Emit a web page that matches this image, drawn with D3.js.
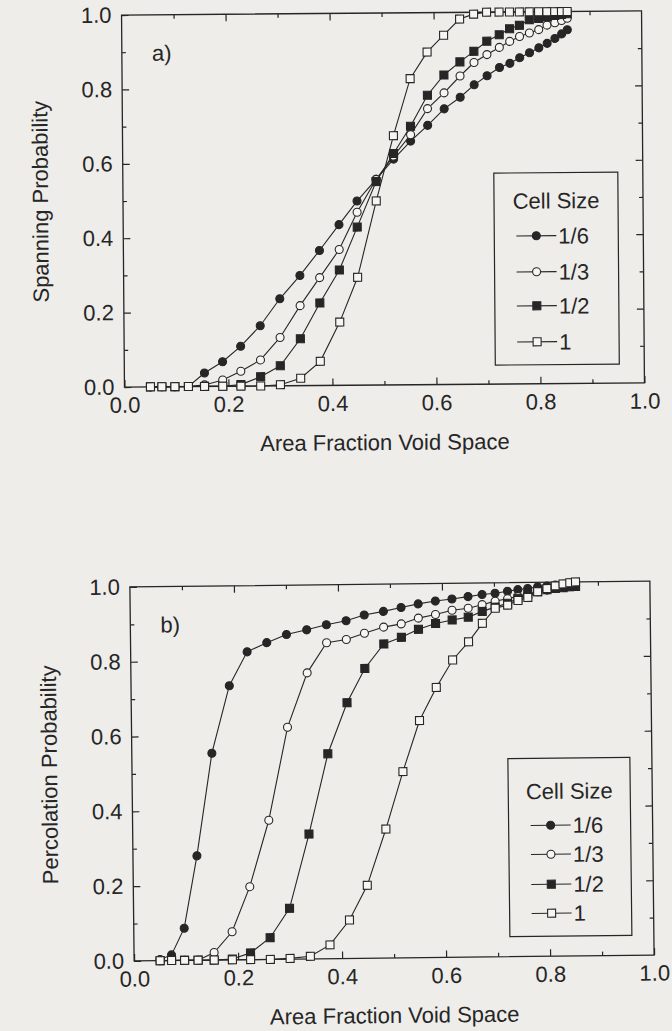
<!DOCTYPE html>
<html>
<head>
<meta charset="utf-8">
<script src="https://cdn.jsdelivr.net/npm/d3@7"></script>
<style>
body { margin: 0; background: #eeedea; }
svg { display: block; }
text { font-family: "Liberation Sans", Arial, Helvetica, sans-serif; fill: #262626; }
</style>
</head>
<body>
<svg id="fig" width="672" height="1031"></svg>
<script>
// shared x values (area fraction of void space)
var areaFraction = [0.050, 0.072, 0.097, 0.123, 0.154, 0.189, 0.224, 0.262, 0.300, 0.339,
    0.377, 0.415, 0.450, 0.487, 0.521, 0.554, 0.587, 0.619, 0.650, 0.677,
    0.702, 0.726, 0.746, 0.765, 0.784, 0.802, 0.818, 0.833, 0.846, 0.857];

var cellSizes = ["1/6", "1/3", "1/2", "1"];

// panel a) spanning probability
var spanSixth = [0, 0, 0, 0, 0.036, 0.066, 0.107, 0.162, 0.234, 0.296, 0.363, 0.432, 0.495, 0.553, 0.607,
    0.655, 0.697, 0.741, 0.772, 0.805, 0.829, 0.851, 0.862, 0.877, 0.890, 0.903, 0.915, 0.928, 0.940, 0.951];
var spanThird = [0, 0, 0, 0, 0.004, 0.017, 0.040, 0.070, 0.130, 0.215, 0.290, 0.365, 0.465, 0.553, 0.615,
    0.672, 0.742, 0.784, 0.829, 0.865, 0.886, 0.905, 0.921, 0.934, 0.943, 0.952, 0.964, 0.970, 0.976, 0.982];
var spanHalf = [0, 0, 0, 0, 0, 0, 0.004, 0.025, 0.054, 0.126, 0.222, 0.310, 0.425, 0.547, 0.622,
    0.695, 0.778, 0.832, 0.867, 0.895, 0.922, 0.939, 0.955, 0.964, 0.979, 0.982, 0.986, 0.990, 0.992, 0.994];
var spanOne = [0, 0, 0, 0, 0, 0, 0, 0, 0.003, 0.020, 0.065, 0.170, 0.290, 0.495, 0.670,
    0.823, 0.894, 0.939, 0.982, 0.995, 1, 1, 1, 1, 1, 1, 1, 1, 1, 1];

// panel b) percolation probability
var percSixth = [0.003, 0.015, 0.086, 0.279, 0.553, 0.733, 0.823, 0.847, 0.868, 0.880, 0.893, 0.903, 0.918, 0.927, 0.937,
    0.946, 0.953, 0.958, 0.964, 0.969, 0.972, 0.977, 0.981, 0.984, 0.988, 0.990, 0.992, 0.994, 0.995, 0.996];
var percThird = [0, 0, 0, 0, 0.020, 0.075, 0.195, 0.372, 0.620, 0.765, 0.845, 0.853, 0.869, 0.885, 0.893,
    0.908, 0.917, 0.928, 0.933, 0.942, 0.951, 0.957, 0.963, 0.969, 0.975, 0.979, 0.983, 0.986, 0.989, 0.991];
var percHalf = [0, 0, 0, 0, 0, 0.002, 0.018, 0.058, 0.136, 0.334, 0.548, 0.684, 0.775, 0.840, 0.857,
    0.878, 0.893, 0.902, 0.909, 0.924, 0.935, 0.945, 0.958, 0.968, 0.975, 0.980, 0.983, 0.985, 0.987, 0.988];
var percOne = [0, 0, 0, 0, 0, 0, 0, 0, 0.002, 0.007, 0.037, 0.103, 0.195, 0.345, 0.498,
    0.634, 0.722, 0.795, 0.843, 0.892, 0.932, 0.940, 0.952, 0.960, 0.975, 0.983, 0.990, 0.995, 0.998, 1];

var majorTicks = [0, 0.2, 0.4, 0.6, 0.8, 1.0];
var minorTicks = [0.1, 0.3, 0.5, 0.7, 0.9];

var ink = "#262626";
var paper = "#f6f5f2";
var markerTypes = ["dot", "circle", "square", "box"];

var svg = d3.select("#fig");

drawPanel({
    left: 123, right: 643, top: 13, bottom: 385, angle: -0.45,
    tag: "a)", yTitle: "Spanning Probability",
    series: [spanSixth, spanThird, spanHalf, spanOne],
    legend: { x: 371, y: 161, w: 124, h: 192, titleY: 189, rows: [224, 260, 294, 330] }
});

drawPanel({
    left: 132, right: 652, top: 584, bottom: 958, angle: -0.65,
    tag: "b)", yTitle: "Percolation Probability",
    series: [percSixth, percThird, percHalf, percOne],
    legend: { x: 376, y: 176, w: 122, h: 178, titleY: 209, rows: [243, 272, 302, 331] }
});

function drawMarker(g, type, cx, cy) {
    if (type === "dot" || type === "circle") {
        g.append("circle")
            .attr("cx", cx).attr("cy", cy).attr("r", 4)
            .attr("fill", type === "dot" ? ink : paper)
            .attr("stroke", ink).attr("stroke-width", 1.1);
    } else {
        g.append("rect")
            .attr("x", cx - 4).attr("y", cy - 4)
            .attr("width", 8).attr("height", 8)
            .attr("fill", type === "square" ? ink : paper)
            .attr("stroke", ink).attr("stroke-width", 1.1);
    }
}

function drawPanel(p) {
    var cx = (p.left + p.right) / 2, cy = (p.top + p.bottom) / 2;
    var g = svg.append("g").attr("transform", `rotate(${p.angle}, ${cx}, ${cy})`);

    var x = d3.scaleLinear().domain([0, 1]).range([p.left, p.right]);
    var y = d3.scaleLinear().domain([0, 1]).range([p.bottom, p.top]);
    var fmt = d3.format(".1f");

    // axes, ticks inward on all four sides
    var axes = g.append("g").attr("class", "axes");
    axes.append("g").attr("transform", `translate(0,${p.bottom})`)
        .call(d3.axisBottom(x).tickValues(majorTicks).tickFormat(fmt).tickSizeInner(-7).tickSizeOuter(0).tickPadding(10));
    axes.append("g").attr("transform", `translate(0,${p.bottom})`)
        .call(d3.axisBottom(x).tickValues(minorTicks).tickFormat("").tickSizeInner(-4).tickSizeOuter(0));
    axes.append("g").attr("transform", `translate(0,${p.top})`)
        .call(d3.axisTop(x).tickValues(majorTicks.slice(1, 5)).tickFormat("").tickSizeInner(-7).tickSizeOuter(0));
    axes.append("g").attr("transform", `translate(0,${p.top})`)
        .call(d3.axisTop(x).tickValues(minorTicks).tickFormat("").tickSizeInner(-4).tickSizeOuter(0));
    axes.append("g").attr("transform", `translate(${p.left},0)`)
        .call(d3.axisLeft(y).tickValues(majorTicks).tickFormat(fmt).tickSizeInner(-7).tickSizeOuter(0).tickPadding(10));
    axes.append("g").attr("transform", `translate(${p.left},0)`)
        .call(d3.axisLeft(y).tickValues(minorTicks).tickFormat("").tickSizeInner(-4).tickSizeOuter(0));
    axes.append("g").attr("transform", `translate(${p.right},0)`)
        .call(d3.axisRight(y).tickValues(majorTicks.slice(1, 5)).tickFormat("").tickSizeInner(-7).tickSizeOuter(0));
    axes.append("g").attr("transform", `translate(${p.right},0)`)
        .call(d3.axisRight(y).tickValues(minorTicks).tickFormat("").tickSizeInner(-4).tickSizeOuter(0));

    axes.selectAll(".domain").remove();
    axes.selectAll(".tick line").attr("stroke", ink).attr("stroke-width", 1.2);
    axes.selectAll(".tick text")
        .style("font-size", "22px")
        .style("font-family", '"Liberation Sans", Arial, sans-serif')
        .attr("fill", ink);

    // frame
    g.append("rect")
        .attr("x", p.left).attr("y", p.top)
        .attr("width", p.right - p.left).attr("height", p.bottom - p.top)
        .attr("fill", "none").attr("stroke", ink).attr("stroke-width", 1.3);

    // axis titles
    g.append("text")
        .attr("x", cx).attr("y", p.bottom + 65)
        .attr("text-anchor", "middle")
        .style("font-size", "22px")
        .text("Area Fraction Void Space");
    g.append("text")
        .attr("transform", `translate(${p.left - 75},${cy}) rotate(-90)`)
        .attr("text-anchor", "middle")
        .style("font-size", "22px")
        .text(p.yTitle);

    g.append("text")
        .attr("x", p.left + 30).attr("y", p.top + 46)
        .style("font-size", "22px")
        .text(p.tag);

    // series: line then markers, last series on top
    var line = d3.line()
        .x(d => x(d[0]))
        .y(d => y(d[1]));

    p.series.forEach(function(vals, i) {
        var pts = areaFraction.map((a, j) => [a, vals[j]]);
        var sg = g.append("g").attr("class", "series");
        sg.append("path")
            .datum(pts)
            .attr("d", line)
            .attr("fill", "none")
            .attr("stroke", ink)
            .attr("stroke-width", 1.1);
        pts.forEach(function(d) {
            drawMarker(sg, markerTypes[i], x(d[0]), y(d[1]));
        });
    });

    // legend
    var L = p.legend;
    var lg = g.append("g").attr("transform", `translate(${p.left + L.x},${p.top})`);
    lg.append("rect")
        .attr("x", 0).attr("y", L.y)
        .attr("width", L.w).attr("height", L.h)
        .attr("fill", "none").attr("stroke", ink).attr("stroke-width", 1.2);
    lg.append("text")
        .attr("x", L.w / 2).attr("y", L.titleY)
        .attr("dy", "0.35em")
        .attr("text-anchor", "middle")
        .style("font-size", "22px")
        .text("Cell Size");
    cellSizes.forEach(function(c, i) {
        var ry = L.rows[i];
        lg.append("line")
            .attr("x1", 22).attr("x2", 62)
            .attr("y1", ry).attr("y2", ry)
            .attr("stroke", ink).attr("stroke-width", 1.1);
        drawMarker(lg, markerTypes[i], 42, ry);
        lg.append("text")
            .attr("x", 64).attr("y", ry)
            .attr("dy", "0.36em")
            .style("font-size", "22px")
            .text(c);
    });
}
</script>
</body>
</html>
